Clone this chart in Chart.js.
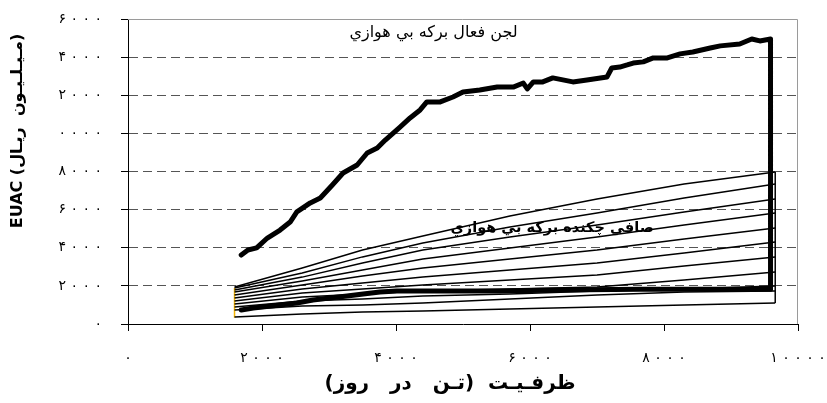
<!DOCTYPE html>
<html lang="fa">
<head>
<meta charset="utf-8">
<title>EUAC - ظرفیت</title>
<script src="https://cdn.jsdelivr.net/npm/chart.js@4.4.1/dist/chart.umd.min.js"></script>
<style>
  html, body { margin: 0; padding: 0; background: #fff; }
  canvas { display: block; }
</style>
</head>
<body>
<canvas id="chart" width="827" height="403"></canvas>
<script>
// Tick labels (Persian digits)
const xTickLabels = ['۰', '۲۰۰۰', '۴۰۰۰', '۶۰۰۰', '۸۰۰۰', '۱۰۰۰۰'];
const yTickLabels = ['۰', '۲۰۰۰', '۴۰۰۰', '۶۰۰۰', '۸۰۰۰', '۰۰۰۰', '۲۰۰۰', '۴۰۰۰', '۶۰۰۰'];

// Activated sludge + anaerobic pond: upper envelope (capacity, EUAC)
const sludgeUpperX = [1690, 1790, 1920, 2080, 2270, 2420, 2520, 2720, 2870, 3050, 3210, 3420, 3570, 3720, 3840, 4060, 4210, 4360, 4460, 4660, 4850, 5000, 5250, 5510, 5750, 5900, 5960, 6050, 6190, 6340, 6640, 6850, 7150, 7220, 7340, 7450, 7540, 7690, 7840, 8050, 8240, 8430, 8690, 8840, 9130, 9310, 9430, 9590];
const sludgeUpperY = [3620, 3880, 3990, 4510, 4930, 5350, 5880, 6350, 6610, 7290, 7920, 8340, 8970, 9230, 9650, 10330, 10810, 11230, 11650, 11650, 11910, 12170, 12280, 12430, 12430, 12640, 12330, 12700, 12700, 12910, 12700, 12800, 12960, 13430, 13480, 13590, 13690, 13750, 13960, 13960, 14170, 14270, 14480, 14590, 14690, 14950, 14850, 14950];
// lower envelope, left to right
const sludgeLowerX = [1690, 1870, 2270, 2520, 2760, 3010, 3270, 3510, 3760, 4010, 4500, 5550, 6450, 7640, 9590];
const sludgeLowerY = [730, 840, 1000, 1100, 1260, 1360, 1470, 1570, 1680, 1730, 1730, 1730, 1780, 1820, 1820];

// Trickling filter + anaerobic pond family
const filterX = [1590, 2600, 3500, 4400, 5700, 7000, 8300, 9660];
const filter1 = [1940, 2940, 3880, 4620, 5670, 6560, 7340, 7970];
const filter2 = [1890, 2680, 3520, 4250, 5090, 5820, 6610, 7340];
const filter3 = [1780, 2460, 3200, 3880, 4560, 5190, 5880, 6560];
const filter4 = [1680, 2260, 2830, 3410, 3990, 4560, 5190, 5820];
const filter5 = [1520, 2050, 2520, 2940, 3410, 3880, 4460, 5040];
const filter6 = [1360, 1840, 2150, 2470, 2830, 3200, 3730, 4300];
const filter7 = [1210, 1630, 1840, 2050, 2310, 2570, 3040, 3520];
const filter8 = [1050, 1420, 1570, 1730, 1840, 1940, 2310, 2730];
const filter9 = [890, 1210, 1310, 1470, 1570, 1730, 1840, 1990];
const filter10 = [730, 940, 1000, 1100, 1310, 1520, 1680, 1730];
const filter11 = [370, 520, 630, 680, 790, 890, 1000, 1100];
const filterCurves = [filter1, filter2, filter3, filter4, filter5, filter6, filter7, filter8, filter9, filter10, filter11];

// Minimum-capacity marker
const markerX = 1590;
const markerY = [330, 1890];

// Series labels, anchored in data units
const sludgeLabel = { text: 'لجن فعال برکه بي هوازي', x: 4560, y: 15270 };
const filterLabel = { text: 'صافي چکنده برکه بي هوازي', x: 6330, y: 5040 };

const xTitle = 'ظرفـيـت  (تـن   در   روز)';
const yTitle = 'EUAC (مـيـلـيـون  ريـال)';

const zip = (xs, ys) => xs.map((x, i) => ({ x, y: ys[i] }));

// closed outline: up the left side, along the upper envelope, down the right side, back along the lower one
const sludgePath = [
  ...zip(sludgeUpperX, sludgeUpperY),
  ...zip(sludgeLowerX, sludgeLowerY).reverse()
];

const datasets = [
  {
    label: sludgeLabel.text,
    data: sludgePath,
    borderColor: '#000',
    borderWidth: 5,
    borderJoinStyle: 'round',
    borderCapStyle: 'round'
  }
];
filterCurves.forEach((ys, i) => {
  datasets.push({
    label: filterLabel.text + ' ' + (i + 1),
    data: zip(filterX, ys),
    borderColor: '#000',
    borderWidth: 1.5
  });
});
const lastIdx = filterX.length - 1;
datasets.push({
  label: 'edge',
  data: [
    { x: filterX[lastIdx], y: filter11[lastIdx] },
    { x: filterX[lastIdx], y: filter1[lastIdx] }
  ],
  borderColor: '#000',
  borderWidth: 1.5
});
datasets.push({
  label: 'min',
  data: markerY.map(y => ({ x: markerX, y })),
  borderColor: '#F5B400',
  borderWidth: 1.5
});

const spaced = s => (s || '').split('').join('\u00A0');

// Frame, series labels and axis titles
const decorations = {
  id: 'decorations',
  beforeDatasetsDraw(chart) {
    const { ctx, chartArea: a } = chart;
    ctx.save();
    ctx.strokeStyle = '#9a9a9a';
    ctx.lineWidth = 1;
    ctx.beginPath();
    ctx.moveTo(a.left, a.top + 0.5);
    ctx.lineTo(a.right - 0.5, a.top + 0.5);
    ctx.lineTo(a.right - 0.5, a.bottom);
    ctx.stroke();
    ctx.restore();
  },
  afterDatasetsDraw(chart) {
    const { ctx, scales: { x, y } } = chart;
    ctx.save();
    ctx.fillStyle = '#000';
    ctx.textAlign = 'center';
    ctx.textBaseline = 'middle';
    ctx.direction = 'rtl';
    ctx.font = '16px "DejaVu Sans"';
    ctx.fillText(sludgeLabel.text, x.getPixelForValue(sludgeLabel.x), y.getPixelForValue(sludgeLabel.y));
    ctx.font = 'bold 14.5px "DejaVu Sans"';
    ctx.fillText(filterLabel.text, x.getPixelForValue(filterLabel.x), y.getPixelForValue(filterLabel.y));
    ctx.font = 'bold 20px "DejaVu Sans"';
    ctx.fillText(xTitle, 450, 384);
    ctx.direction = 'ltr';
    ctx.translate(18, 131);
    ctx.rotate(-Math.PI / 2);
    ctx.font = 'bold 16px "DejaVu Sans"';
    ctx.fillText(yTitle, 0, 0);
    ctx.restore();
  }
};

Chart.defaults.font.family = '"DejaVu Sans"';

new Chart(document.getElementById('chart'), {
  type: 'scatter',
  data: { datasets },
  options: {
    responsive: false,
    animation: false,
    devicePixelRatio: 1,
    showLine: true,
    layout: { padding: { top: 19, right: 29, left: 0, bottom: 0 } },
    elements: { point: { radius: 0, hoverRadius: 0 }, line: { tension: 0, fill: false } },
    plugins: { legend: { display: false }, tooltip: { enabled: false } },
    scales: {
      x: {
        type: 'linear',
        min: 0, max: 10000,
        ticks: {
          stepSize: 2000, padding: 19, color: '#000', maxRotation: 0, autoSkip: false,
          font: { size: 14 },
          callback: (v, i) => spaced(xTickLabels[i])
        },
        grid: { drawOnChartArea: false, drawTicks: true, tickLength: 7, tickColor: '#000' },
        border: { display: true, color: '#000', width: 1 },
        afterFit(s) { s.height = 79; s.paddingLeft = 0; s.paddingRight = 0; }
      },
      y: {
        type: 'linear',
        min: 0, max: 16000,
        ticks: {
          stepSize: 2000, padding: 19, color: '#000', autoSkip: false,
          font: { size: 14 },
          callback: (v, i) => spaced(yTickLabels[i])
        },
        grid: {
          drawOnChartArea: true, drawTicks: true, tickLength: 7, tickColor: '#000', lineWidth: 1,
          color: c => (c.tick && c.tick.value > 0 && c.tick.value < 16000) ? '#555' : 'rgba(0,0,0,0)'
        },
        border: { display: true, color: '#000', width: 1, dash: [9, 5] },
        afterFit(s) { s.width = 128; s.paddingTop = 0; s.paddingBottom = 0; }
      }
    }
  },
  plugins: [decorations]
});
</script>
</body>
</html>
